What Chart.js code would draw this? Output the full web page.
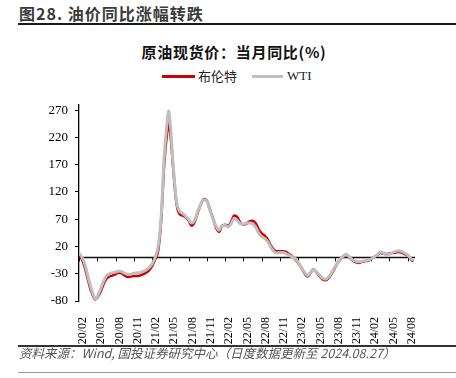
<!DOCTYPE html>
<html>
<head>
<meta charset="utf-8">
<script src="https://cdn.jsdelivr.net/npm/chart.js@4/dist/chart.umd.min.js"></script>
<style>
  html, body { margin: 0; padding: 0; background: #fff; }
  body { width: 456px; height: 378px; position: relative; overflow: hidden; font-family: "Noto Sans CJK SC", sans-serif; }
  .abs { position: absolute; white-space: nowrap; }
  #hdr { left: 19px; top: 2px; font-size: 16px; font-weight: bold; color: #3a3a3a; line-height: 22px; letter-spacing: 1px; }
  #hdrLine { left: 18px; top: 23px; width: 438px; height: 2px; background: #1a1a1a; }
  #ttl { left: 0; width: 468px; top: 41px; text-align: center; font-size: 15px; font-weight: bold; color: #111; line-height: 22px; letter-spacing: 0.7px; }
  .lg { top: 75px; height: 3px; }
  .lgt { top: 67px; font-size: 13px; line-height: 18px; color: #222; }
  #chartWrap { left: 0; top: 90px; width: 456px; height: 255px; }
  #ftLine { left: 18px; top: 345px; width: 438px; height: 1.5px; background: #333; }
  #ft { left: 19px; top: 344px; font-size: 12.5px; font-style: italic; color: #555; line-height: 17px; }
  #btLine { left: 18px; top: 372px; width: 438px; height: 1px; background: #999; }
</style>
</head>
<body>
<div class="abs" id="hdr">图28. 油价同比涨幅转跌</div>
<div class="abs" id="hdrLine"></div>
<div class="abs" id="ttl">原油现货价：当月同比(%)</div>
<div class="abs lg" style="left:162px;width:33px;background:#cc0000;"></div>
<div class="abs lgt" style="left:198px;">布伦特</div>
<div class="abs lg" style="left:252px;width:31px;background:#bfbfbf;"></div>
<div class="abs lgt" style="left:287px;font-family:'Liberation Serif',serif;">WTI</div>
<div class="abs" id="chartWrap"><canvas id="c" width="456" height="255"></canvas></div>
<div class="abs" id="ftLine"></div>
<div class="abs" id="ft">资料来源：Wind, 国投证券研究中心（日度数据更新至 2024.08.27）</div>
<div class="abs" id="btLine"></div>
<script>
const dates = [
  "2020-02-01","2020-02-16","2020-03-01","2020-03-16","2020-04-01","2020-04-16","2020-04-21","2020-05-01","2020-05-16",
  "2020-06-01","2020-06-16","2020-07-01","2020-07-16","2020-08-01","2020-08-16","2020-09-01","2020-09-16",
  "2020-10-01","2020-10-16","2020-11-01","2020-11-16","2020-12-01","2020-12-16",
  "2021-01-01","2021-01-16","2021-02-01","2021-02-16","2021-03-01","2021-03-16","2021-04-01","2021-04-16","2021-04-22",
  "2021-05-01","2021-05-16","2021-06-01","2021-06-16","2021-07-01","2021-07-16","2021-08-01","2021-08-16",
  "2021-09-01","2021-09-16","2021-10-01","2021-10-16","2021-11-01","2021-11-16","2021-12-01","2021-12-16",
  "2022-01-01","2022-01-16","2022-02-01","2022-02-16","2022-03-01","2022-03-16","2022-04-01","2022-04-16",
  "2022-05-01","2022-05-16","2022-06-01","2022-06-16","2022-07-01","2022-07-16","2022-08-01","2022-08-16",
  "2022-09-01","2022-09-16","2022-10-01","2022-10-16","2022-11-01","2022-11-16","2022-12-01","2022-12-16",
  "2023-01-01","2023-01-16","2023-02-01","2023-02-16","2023-03-01","2023-03-16","2023-04-01","2023-04-16",
  "2023-05-01","2023-05-16","2023-06-01","2023-06-16","2023-07-01","2023-07-16","2023-08-01","2023-08-16",
  "2023-09-01","2023-09-16","2023-09-28","2023-10-16","2023-11-01","2023-11-16","2023-12-01","2023-12-16",
  "2024-01-01","2024-01-16","2024-02-01","2024-02-16","2024-03-01","2024-03-16","2024-04-01","2024-04-16",
  "2024-05-01","2024-05-16","2024-06-01","2024-06-16","2024-07-01","2024-07-16","2024-08-01","2024-08-16","2024-08-27"
];
const brent = [
  5,-4,-20,-42,-62,-75,-77,-74,-64,
  -50,-39,-35,-33,-31,-28,-29,-33,
  -36,-35,-34,-34,-33,-31,
  -28,-24,-16,-4,12,68,172,232,247,
  228,160,100,80,77,74,68,58,
  65,82,97,107,104,88,72,55,
  47,58,60,58,65,77,74,64,
  60,62,66,67,63,52,44,40,
  33,22,14,11,11,11,10,6,
  2,-3,-10,-18,-28,-35,-29,-22,
  -27,-34,-40,-42,-38,-30,-20,-10,
  -3,2,5,-1,-6,-9,-10,-8,
  -7,-6,-3,1,4,8,7,6,
  7,8,9,10,9,6,3,-3,-8
];
const wti = [
  8,0,-14,-36,-57,-73,-76,-72,-59,
  -45,-34,-30,-28,-27,-25,-26,-29,
  -31,-31,-29,-28,-28,-26,
  -23,-19,-12,0,20,75,185,252,269,
  245,165,104,85,81,76,70,63,
  68,84,98,106,103,87,70,58,
  50,58,59,56,62,72,68,62,
  61,63,63,62,56,45,38,35,
  29,19,11,8,9,9,7,4,
  1,-2,-9,-18,-26,-33,-28,-22,
  -26,-32,-38,-40,-36,-28,-18,-9,
  -2,3,6,0,-5,-7,-8,-7,
  -6,-5,-3,1,5,10,8,5,
  6,9,11,12,11,8,4,-2,-6
];
const yTicks = [-80, -30, 20, 70, 120, 170, 220, 270];
const seriesNames = ["布伦特", "WTI"];

function monthIndex(d) {
  const [y, m, day] = d.split("-").map(Number);
  return (y - 2020) * 12 + (m - 2) + (day - 1) / 30;
}
function tickLabel(v) {
  const total = 2020 * 12 + 1 + Math.round(v);
  const yy = Math.floor(total / 12) % 100;
  const mm = total % 12 + 1;
  return String(yy).padStart(2, "0") + "/" + String(mm).padStart(2, "0");
}

const zeroLine = {
  id: "zeroLine",
  beforeDatasetsDraw(chart) {
    const { ctx, chartArea, scales } = chart;
    const y0 = scales.y.getPixelForValue(0);
    ctx.save();
    ctx.strokeStyle = "#111";
    ctx.lineWidth = 1.5;
    ctx.beginPath();
    ctx.moveTo(chartArea.left, y0);
    ctx.lineTo(chartArea.right, y0);
    ctx.stroke();
    ctx.lineWidth = 1;
    scales.x.ticks.forEach(t => {
      const x = Math.round(scales.x.getPixelForValue(t.value)) + 0.5;
      ctx.beginPath();
      ctx.moveTo(x, y0);
      ctx.lineTo(x, y0 + 4);
      ctx.stroke();
    });
    ctx.restore();
  }
};

new Chart(document.getElementById("c"), {
  type: "line",
  data: {
    datasets: [
      { label: seriesNames[0], order: 1, data: dates.map((d, i) => ({ x: monthIndex(d), y: brent[i] })),
        borderColor: "#cc0000", borderWidth: 2.6, pointRadius: 0, cubicInterpolationMode: "monotone", fill: false },
      { label: seriesNames[1], order: 0, data: dates.map((d, i) => ({ x: monthIndex(d), y: wti[i] })),
        borderColor: "#bfbfbf", borderWidth: 3, pointRadius: 0, cubicInterpolationMode: "monotone", fill: false }
    ]
  },
  options: {
    responsive: false,
    animation: false,
    layout: { padding: { top: 12, right: 41, left: 0, bottom: 0 } },
    plugins: { legend: { display: false }, tooltip: { enabled: false } },
    scales: {
      x: {
        type: "linear", min: 0, max: 55.2,
        grid: { display: false },
        border: { display: false },
        ticks: {
          stepSize: 3, includeBounds: false, autoSkip: false,
          minRotation: 90, maxRotation: 90, padding: 8, labelOffset: 4,
          color: "#000", font: { family: "'Liberation Serif', serif", size: 12 },
          callback: v => tickLabel(v)
        },
        afterFit: s => { s.height = 44; }
      },
      y: {
        min: -80, max: 280,
        afterBuildTicks: s => { s.ticks = yTicks.map(v => ({ value: v })); },
        grid: { drawOnChartArea: false, drawTicks: true, tickLength: 4, color: "#000" },
        border: { color: "#000", width: 1.3 },
        ticks: { padding: 7, color: "#000", font: { family: "'Liberation Serif', serif", size: 13 } },
        afterFit: s => { s.width = 79; }
      }
    }
  },
  plugins: [zeroLine]
});
</script>
</body>
</html>
